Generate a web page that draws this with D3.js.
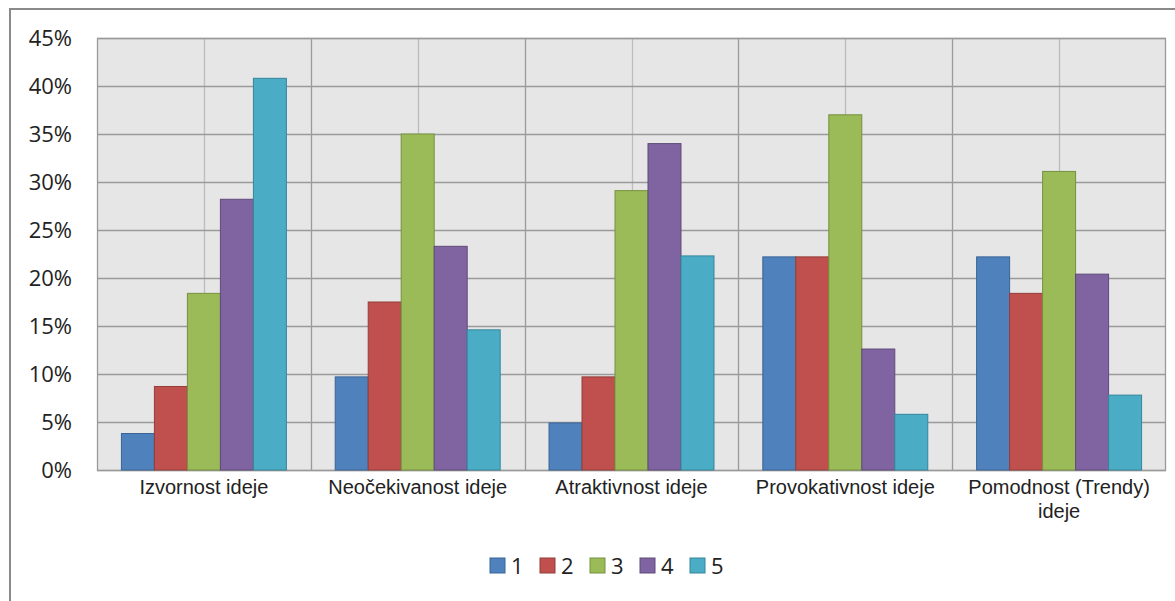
<!DOCTYPE html>
<html><head><meta charset="utf-8">
<script src="https://cdn.jsdelivr.net/npm/d3@7"></script>
<style>body{margin:0;background:#fff;}svg{display:block;}</style>
</head><body>
<svg id="c" width="1175" height="601"></svg>
<script>
const categories = ["Izvornost ideje","Neočekivanost ideje","Atraktivnost ideje","Provokativnost ideje","Pomodnost (Trendy) ideje"];
const seriesNames = ["1","2","3","4","5"];
const s1 = [3.8, 9.7, 4.9, 22.2, 22.2];
const s2 = [8.7, 17.5, 9.7, 22.2, 18.4];
const s3 = [18.4, 35.0, 29.1, 37.0, 31.1];
const s4 = [28.2, 23.3, 34.0, 12.6, 20.4];
const s5 = [40.8, 14.6, 22.3, 5.8, 7.8];
const yTicks = [0,5,10,15,20,25,30,35,40,45];
const fills = ["#4F81BD","#C0504D","#9BBB59","#8064A2","#4BACC6"];
const strokes = ["#3A6496","#943D3A","#76913F","#5F4A7A","#35869B"];
const series = [s1,s2,s3,s4,s5];

const svg = d3.select("#c");
const L=97, R=1166, T=38, B=470;

// outer border
svg.append("path").attr("d","M10,601 V9 H1175").attr("fill","none").attr("stroke","#8a8a8a").attr("stroke-width",2);

const x = d3.scaleBand().domain(categories).range([L,R]);
const xi = d3.scaleBand().domain(seriesNames).range([0,x.bandwidth()]).paddingOuter(0.74).paddingInner(0);
const y = d3.scaleLinear().domain([0,45]).range([B,T]);

svg.append("rect").attr("x",L).attr("y",T).attr("width",R-L).attr("height",B-T).attr("fill","#E6E6E6");

// center vertical light lines
svg.selectAll(".vc").data(categories).join("line")
  .attr("x1",d=>Math.round(x(d)+x.bandwidth()/2)+0.5).attr("x2",d=>Math.round(x(d)+x.bandwidth()/2)+0.5)
  .attr("y1",T).attr("y2",B).attr("stroke","#BDBDBD").attr("stroke-width",1.3);
// boundary vertical lines
svg.selectAll(".vb").data(categories.slice(1)).join("line")
  .attr("x1",d=>Math.round(x(d))+0.5).attr("x2",d=>Math.round(x(d))+0.5)
  .attr("y1",T).attr("y2",B).attr("stroke","#9A9A9A").attr("stroke-width",1.3);
// horizontal grid
svg.selectAll(".hg").data(yTicks).join("line")
  .attr("x1",L).attr("x2",R).attr("y1",d=>Math.round(y(d))+0.5).attr("y2",d=>Math.round(y(d))+0.5)
  .attr("stroke","#9A9A9A").attr("stroke-width",1.3);
// plot border
svg.append("rect").attr("x",L+0.5).attr("y",T+0.5).attr("width",R-L-1).attr("height",B-T).attr("fill","none").attr("stroke","#9A9A9A").attr("stroke-width",1.3);

// bars
series.forEach((s,si)=>{
  svg.append("g").selectAll("rect").data(s).join("rect")
    .attr("x",(d,i)=>x(categories[i])+xi(seriesNames[si]))
    .attr("y",d=>y(d))
    .attr("width",xi.bandwidth())
    .attr("height",d=>B-y(d))
    .attr("fill",fills[si]).attr("stroke",strokes[si]).attr("stroke-width",1);
});

// y axis labels
const yAxis = d3.axisLeft(y).tickValues(yTicks).tickFormat(d=>d+"%").tickSize(0).tickPadding(25);
const ya = svg.append("g").attr("transform",`translate(${L},0)`).call(yAxis);
ya.select(".domain").remove();
ya.selectAll("text").attr("font-family","'Open Sans', sans-serif").attr("font-size",22).attr("fill","#222");

// x labels
const lines = {"Pomodnost (Trendy) ideje":["Pomodnost (Trendy)","ideje"]};
categories.forEach(c=>{
  const ls = lines[c] || [c];
  const t = svg.append("text").attr("x",x(c)+x.bandwidth()/2).attr("y",494)
    .attr("text-anchor","middle").attr("font-family","'Liberation Sans', Arial, sans-serif").attr("font-size",20).attr("fill","#222");
  ls.forEach((l,i)=>t.append("tspan").attr("x",x(c)+x.bandwidth()/2).attr("dy",i?24:0).text(l));
});

// legend
const lg = svg.append("g").selectAll("g").data(seriesNames).join("g")
  .attr("transform",(d,i)=>`translate(${490+i*50},558)`);
lg.append("rect").attr("width",15).attr("height",15).attr("fill",(d,i)=>fills[i]).attr("stroke",(d,i)=>strokes[i]);
lg.append("text").attr("x",21).attr("y",16).text(d=>d).attr("font-family","'Open Sans', sans-serif").attr("font-size",22).attr("fill","#222");
</script>
</body></html>
